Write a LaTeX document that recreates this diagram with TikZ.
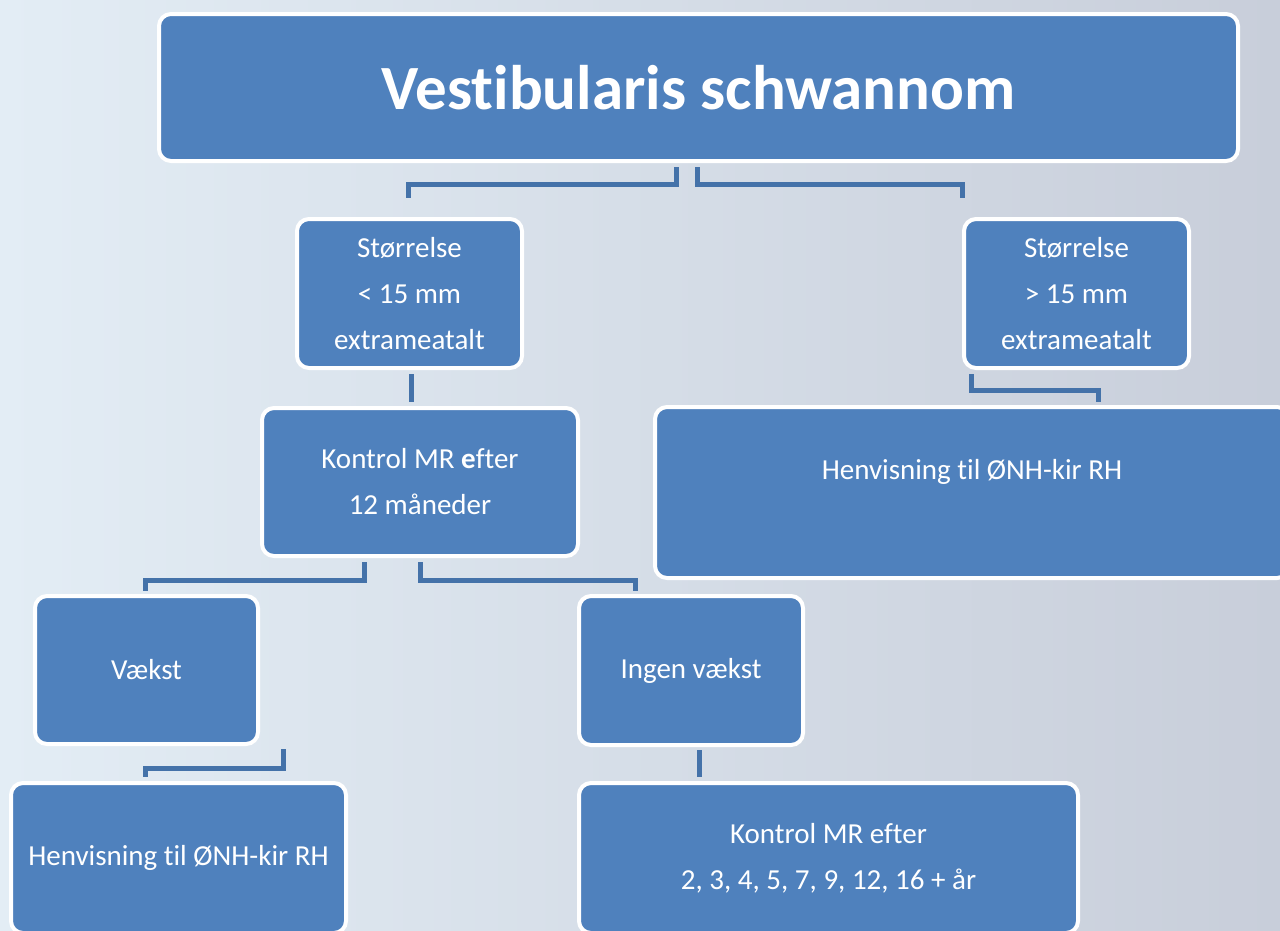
\documentclass[tikz,border=0pt]{standalone}
\usepackage{fontspec}
\setmainfont[Ligatures={CommonOff}]{Carlito}
\usetikzlibrary{calc}
\definecolor{boxblue}{HTML}{4F81BD}
\definecolor{connblue}{HTML}{4472A9}
\definecolor{bgl}{HTML}{E3EDF5}
\definecolor{bgm}{HTML}{DAE3EC}
\definecolor{bgr}{HTML}{C8CEDA}
\begin{document}
\begin{tikzpicture}[x=1pt,y=-1pt,
  box/.style={draw=white, line width=4pt, fill=boxblue, rounded corners=12pt,
    text=white, align=center, inner sep=0pt, font=\fontsize{29}{46}\selectfont},
  conn/.style={draw=connblue, line width=5pt}]
\useasboundingbox (0,0) rectangle (1280,930);
\shade[left color=bgl, middle color=bgm, right color=bgr] (0,0) rectangle (1280,930);
\clip (0,0) rectangle (1280,930);

\node[box, minimum width=1079pt, minimum height=147pt, font=\fontsize{63}{70}\selectfont\bfseries]
  (title) at (698.5,87.5) {Vestibularis schwannom};
\node[box, minimum width=225pt, minimum height=149pt] (small) at (409.5,293.5)
  {Størrelse\\< 15 mm\\extrameatalt};
\node[box, minimum width=225pt, minimum height=149pt] (big) at (1076.5,293.5)
  {Størrelse\\> 15 mm\\extrameatalt};
\node[box, minimum width=316pt, minimum height=148pt] (k12) at (420,482)
  {Kontrol MR \textbf{e}fter\\12 måneder};
\node[box, minimum width=634pt, minimum height=171pt] (henvR) at (972,492.5)
  {Henvisning til ØNH-kir RH\\~};
\node[box, minimum width=223pt, minimum height=148pt] (vaekst) at (146.5,670)
  {Vækst};
\node[box, minimum width=224pt, minimum height=149pt] (ingen) at (691,670.5)
  {Ingen vækst};
\node[box, minimum width=335pt, minimum height=150pt] (henvL) at (178.5,858)
  {Henvisning til ØNH-kir RH};
\node[box, minimum width=499pt, minimum height=150pt] (kb) at (828.5,858)
  {Kontrol MR efter\\2, 3, 4, 5, 7, 9, 12, 16 + år};

\draw[conn] ($(title.south)+(-22.5,4)$) -- ++(0,17) -| ($(small.north)+(-1.5,-19)$);
\draw[conn] ($(title.south)+(-1.5,4)$) -- ++(0,17) -| ($(big.north west)+(0,-19)$);
\draw[conn] ($(small.south)+(1.5,4)$) -- ($(k12.north)+(-9,-4)$);
\draw[conn] ($(big.south west)+(9,4)$) -- ++(0,16) -| ($(henvR.north west)+(445,-3)$);
\draw[conn] ($(k12.south)+(-56,4)$) -- ++(0,18) -| ($(vaekst.north)+(-1,-3)$);
\draw[conn] ($(k12.south)+(0,4)$) -- ++(0,18) -| ($(ingen.north west)+(58,-3)$);
\draw[conn] ($(vaekst.south east)+(23,3)$) -- ++(0,19) -| ($(henvL.north)+(-33,-4)$);
\draw[conn] ($(ingen.south)+(8,3)$) -- ($(kb.north)+(-129.5,-4)$);
\end{tikzpicture}
\end{document}
